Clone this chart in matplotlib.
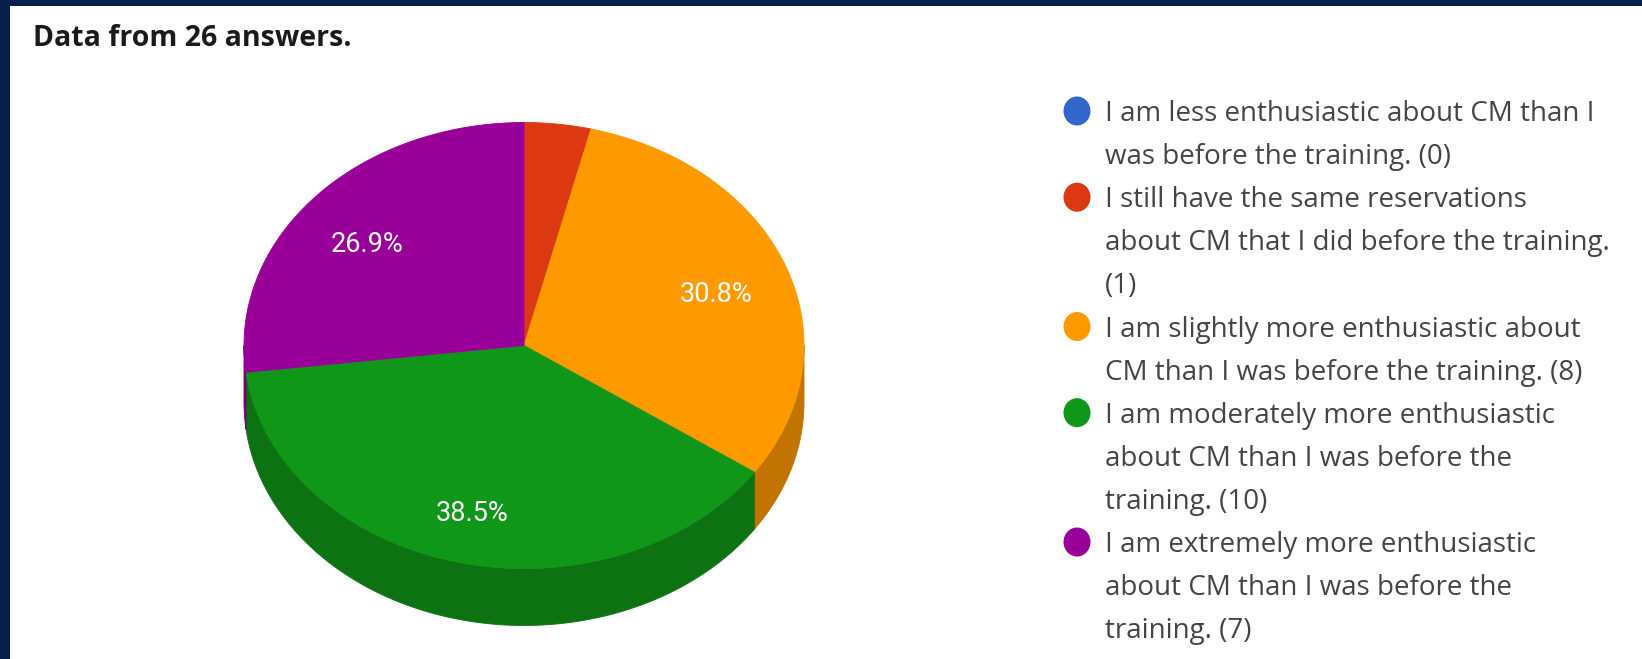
import numpy as np
import matplotlib
matplotlib.use("Agg")
import matplotlib.pyplot as plt
from matplotlib.patches import Polygon, Ellipse, Rectangle

# --- data -------------------------------------------------------------
title = "Data from 26 answers."
categories = [
    "I am less enthusiastic about CM than I\nwas before the training. ({})",
    "I still have the same reservations\nabout CM that I did before the training.\n({})",
    "I am slightly more enthusiastic about\nCM than I was before the training. ({})",
    "I am moderately more enthusiastic\nabout CM than I was before the\ntraining. ({})",
    "I am extremely more enthusiastic\nabout CM than I was before the\ntraining. ({})",
]
counts = [0, 1, 8, 10, 7]
colors = ["#3366cc", "#dc3912", "#ff9900", "#109618", "#990099"]

# --- canvas -----------------------------------------------------------
W, H = 1642, 659
fig = plt.figure(figsize=(W / 100, H / 100), dpi=100)
ax = fig.add_axes([0, 0, 1, 1])
ax.set_xlim(0, W)
ax.set_ylim(H, 0)
ax.axis("off")

navy = "#06204c"
ax.add_patch(Rectangle((0, 0), W, 6, color=navy, zorder=10, lw=0))
ax.add_patch(Rectangle((0, 0), 10, H, color=navy, zorder=10, lw=0))

ax.text(33, 38, title, fontsize=20.5, fontweight="bold", family="Open Sans",
        color="#1a1a1a", va="center", ha="left")

# --- 3D pie -----------------------------------------------------------
cx, cy, rx, ry, depth = 524, 345.5, 280, 223, 57


def darker(hex_color, k=0.76):
    rgb = np.array(matplotlib.colors.to_rgb(hex_color))
    return tuple(rgb * k)


def ellipse_pts(theta_deg, scale=1.0, dy=0.0):
    t = np.radians(theta_deg)
    return np.column_stack([cx + rx * scale * np.sin(t),
                            cy - ry * scale * np.cos(t) + dy])


total = sum(counts)
fracs = np.array(counts, dtype=float) / total
ends = np.cumsum(fracs) * 360.0
starts = ends - fracs * 360.0

# outer wall: only the front half (90°..270°, clockwise from 12 o'clock)
for s, e, c, v in zip(starts, ends, colors, counts):
    if v == 0:
        continue
    a, b = max(s, 90.0), min(e, 270.0)
    if b <= a:
        continue
    th = np.linspace(a, b, 200)
    poly = np.vstack([ellipse_pts(th), ellipse_pts(th[::-1], dy=depth)])
    ax.add_patch(Polygon(poly, closed=True, fc=darker(c), ec=darker(c),
                         lw=0.6, zorder=1))

# top surface
for s, e, c, v in zip(starts, ends, colors, counts):
    if v == 0:
        continue
    th = np.linspace(s, e, 300)
    poly = np.vstack([[cx, cy], ellipse_pts(th)])
    ax.add_patch(Polygon(poly, closed=True, fc=c, ec=c, lw=0.6, zorder=2))

# percentage labels
for s, e, v in zip(starts, ends, counts):
    share = v / total
    if share < 0.05:
        continue
    mid = (s + e) / 2.0
    x, y = ellipse_pts(np.array([mid]), scale=0.74)[0]
    ax.text(x - 2, y + 8, f"{share * 100:.1f}%", color="white", fontsize=19.5,
            family="Roboto", ha="center", va="center", zorder=5)

# --- legend -----------------------------------------------------------
lx_dot, lx_text = 1077, 1105
y0, pitch = 111, 43.1
line = 0
for cat, c, v in zip(categories, colors, counts):
    lines = cat.format(v).split("\n")
    y = y0 + line * pitch
    ax.add_patch(Ellipse((lx_dot, y), 27, 29, fc=c, ec="none", zorder=3))
    for k, txt in enumerate(lines):
        ax.text(lx_text, y + k * pitch + 3, txt, fontsize=20,
                family="Open Sans", color="#444444", ha="left", va="center")
    line += len(lines)

fig.savefig("out.png", dpi=100, facecolor="white")
